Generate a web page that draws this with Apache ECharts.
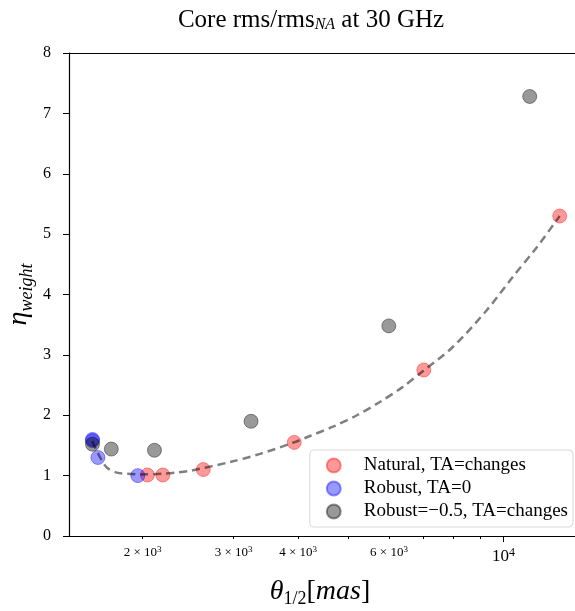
<!DOCTYPE html>
<html>
<head>
<meta charset="utf-8">
<script src="https://cdn.jsdelivr.net/npm/echarts@6/dist/echarts.min.js"></script>
<style>
  html, body { margin: 0; padding: 0; background: #fff; }
  #chart { width: 575px; height: 611px; }
</style>
</head>
<body>
<div id="chart"></div>
<script>
// values: [theta (mas), eta]
var naturalPts = [[2043, 1.01], [2188, 1.01], [2621, 1.10], [3932, 1.55], [7007, 2.75], [12843, 5.30]];
var robustPts = [[1599, 1.60], [1599, 1.58], [1638, 1.30], [1957, 1.00]];
var robustHalfPts = [[1599, 1.52], [1739, 1.44], [2108, 1.42], [3243, 1.90], [5994, 3.48], [11235, 7.28]];
// dashed fit curve
var fitPts = [[1597, 1.57], [1655, 1.30], [1706, 1.13], [1783, 1.05], [1866, 1.03], [1978, 1.02],
    [2185, 1.03], [2329, 1.05], [2472, 1.08], [2953, 1.225], [3376, 1.36], [3927, 1.55],
    [4217, 1.656], [4672, 1.81], [5199, 2.00], [5760, 2.22], [6381, 2.47], [6976, 2.73],
    [7973, 3.13], [9278, 3.74], [10416, 4.29], [11590, 4.78], [12843, 5.30]];

var minorTicks = [2000, 3000, 4000, 5000, 6000, 7000, 8000, 9000];
var minorLabels = [2000, 3000, 4000, 6000];
var majorTicks = [10000];
var yTicks = [0, 1, 2, 3, 4, 5, 6, 7, 8];

var serif = 'Liberation Serif';
var xMin = 1440, xMax = 13750;
var myChart = echarts.init(document.getElementById('chart'));

option = {
    animation: false,
    backgroundColor: '#fff',
    title: {
        text: '{n|Core rms/rms}{s|NA}{n| at 30 GHz}',
        left: 306,
        top: 2,
        textAlign: 'center',
        textStyle: {
            fontWeight: 'normal',
            rich: {
                n: { fontFamily: serif, fontSize: 25, fontWeight: 'normal', color: '#000' },
                s: { fontFamily: serif, fontSize: 16, fontStyle: 'italic', fontWeight: 'normal', color: '#000', verticalAlign: 'bottom', padding: [10, 0, 0, 0] }
            }
        }
    },
    grid: {
        left: 69,
        right: 0,
        top: 53,
        bottom: 75,
        outerBoundsMode: 'none'
    },
    legend: {
        orient: 'vertical',
        right: 2,
        top: 450,
        padding: [6, 5, 6, 16],
        itemGap: 4,
        itemWidth: 30,
        itemHeight: 14,
        icon: 'circle',
        backgroundColor: '#fff',
        borderColor: '#d8d8d8',
        borderWidth: 1,
        borderRadius: 4,
        textStyle: { fontFamily: serif, fontSize: 19, color: '#000', padding: [0, 0, 0, 10] },
        data: ['Natural, TA=changes', 'Robust, TA=0', 'Robust=\u22120.5, TA=changes']
    },
    xAxis: [{
        type: 'log',
        min: xMin,
        max: xMax,
        name: '{t|θ}{s|1/2}{u|[}{t|mas}{u|]}',
        nameLocation: 'middle',
        nameGap: 40,
        nameTextStyle: {
            padding: [0, 0, 0, -4],
            rich: {
                t: { fontFamily: serif, fontSize: 28, fontStyle: 'italic', color: '#000' },
                u: { fontFamily: serif, fontSize: 28, color: '#000' },
                s: { fontFamily: serif, fontSize: 18, color: '#000', verticalAlign: 'bottom', padding: [14, 0, 0, 0] }
            }
        },
        axisLine: { show: true, lineStyle: { color: '#000', width: 1.2 } },
        axisTick: { show: true, customValues: minorTicks, length: 3, lineStyle: { color: '#000' } },
        axisLabel: {
            customValues: minorLabels,
            margin: 9,
            color: '#000',
            formatter: function (v) {
                return '{a|' + Math.round(v / 1000) + ' × 10}{b|3}';
            },
            rich: {
                a: { fontFamily: serif, fontSize: 13, color: '#000' },
                b: { fontFamily: serif, fontSize: 9, color: '#000', verticalAlign: 'top', padding: [0, 0, 6, 0] }
            }
        },
        splitLine: { show: false }
    }, {
        type: 'log',
        min: xMin,
        max: xMax,
        position: 'bottom',
        axisLine: { show: false },
        axisTick: { show: true, customValues: majorTicks, length: 6, lineStyle: { color: '#000' } },
        axisLabel: {
            customValues: majorTicks,
            margin: 11,
            color: '#000',
            formatter: function (v) {
                return '{a|10}{b|' + Math.round(Math.log10(v)) + '}';
            },
            rich: {
                a: { fontFamily: serif, fontSize: 17, color: '#000' },
                b: { fontFamily: serif, fontSize: 12, color: '#000', verticalAlign: 'top', padding: [0, 0, 8, 0] }
            }
        },
        splitLine: { show: false }
    }, {
        type: 'log',
        min: xMin,
        max: xMax,
        position: 'top',
        axisLine: { show: true, lineStyle: { color: '#000', width: 1.2 } },
        axisTick: { show: false },
        axisLabel: { show: false },
        splitLine: { show: false }
    }],
    yAxis: {
        type: 'value',
        min: 0,
        max: 8,
        interval: 1,
        name: '{e|η}{s|weight}',
        nameLocation: 'middle',
        nameGap: 33,
        nameMoveOverlap: false,
        nameTextStyle: {
            rich: {
                e: { fontFamily: serif, fontSize: 28, fontStyle: 'italic', color: '#000' },
                s: { fontFamily: serif, fontSize: 18, fontStyle: 'italic', color: '#000', verticalAlign: 'bottom', padding: [16, 0, 0, 0] }
            }
        },
        axisLine: { show: true, lineStyle: { color: '#000', width: 1.2 } },
        axisTick: { show: true, length: 6, lineStyle: { color: '#000' } },
        axisLabel: {
            customValues: yTicks,
            margin: 18,
            fontFamily: serif,
            fontSize: 16,
            color: '#000'
        },
        splitLine: { show: false }
    },
    series: [{
        name: 'Natural, TA=changes',
        type: 'scatter',
        symbolSize: 14,
        itemStyle: { color: 'rgba(255,0,0,0.5)', borderColor: 'rgba(255,0,0,0.5)', borderWidth: 1 },
        data: naturalPts
    }, {
        name: 'Robust, TA=0',
        type: 'scatter',
        symbolSize: 14,
        itemStyle: { color: 'rgba(0,0,255,0.5)', borderColor: 'rgba(0,0,255,0.5)', borderWidth: 1 },
        data: robustPts
    }, {
        name: 'Robust=\u22120.5, TA=changes',
        type: 'scatter',
        symbolSize: 14,
        itemStyle: { color: 'rgba(0,0,0,0.5)', borderColor: 'rgba(0,0,0,0.5)', borderWidth: 1 },
        data: robustHalfPts
    }, {
        name: 'fit',
        type: 'line',
        smooth: 0.3,
        showSymbol: false,
        z: 5,
        lineStyle: { color: 'rgba(0,0,0,0.5)', width: 2.5, type: [8, 5] },
        data: fitPts
    }]
};
myChart.setOption(option);
</script>
</body>
</html>
